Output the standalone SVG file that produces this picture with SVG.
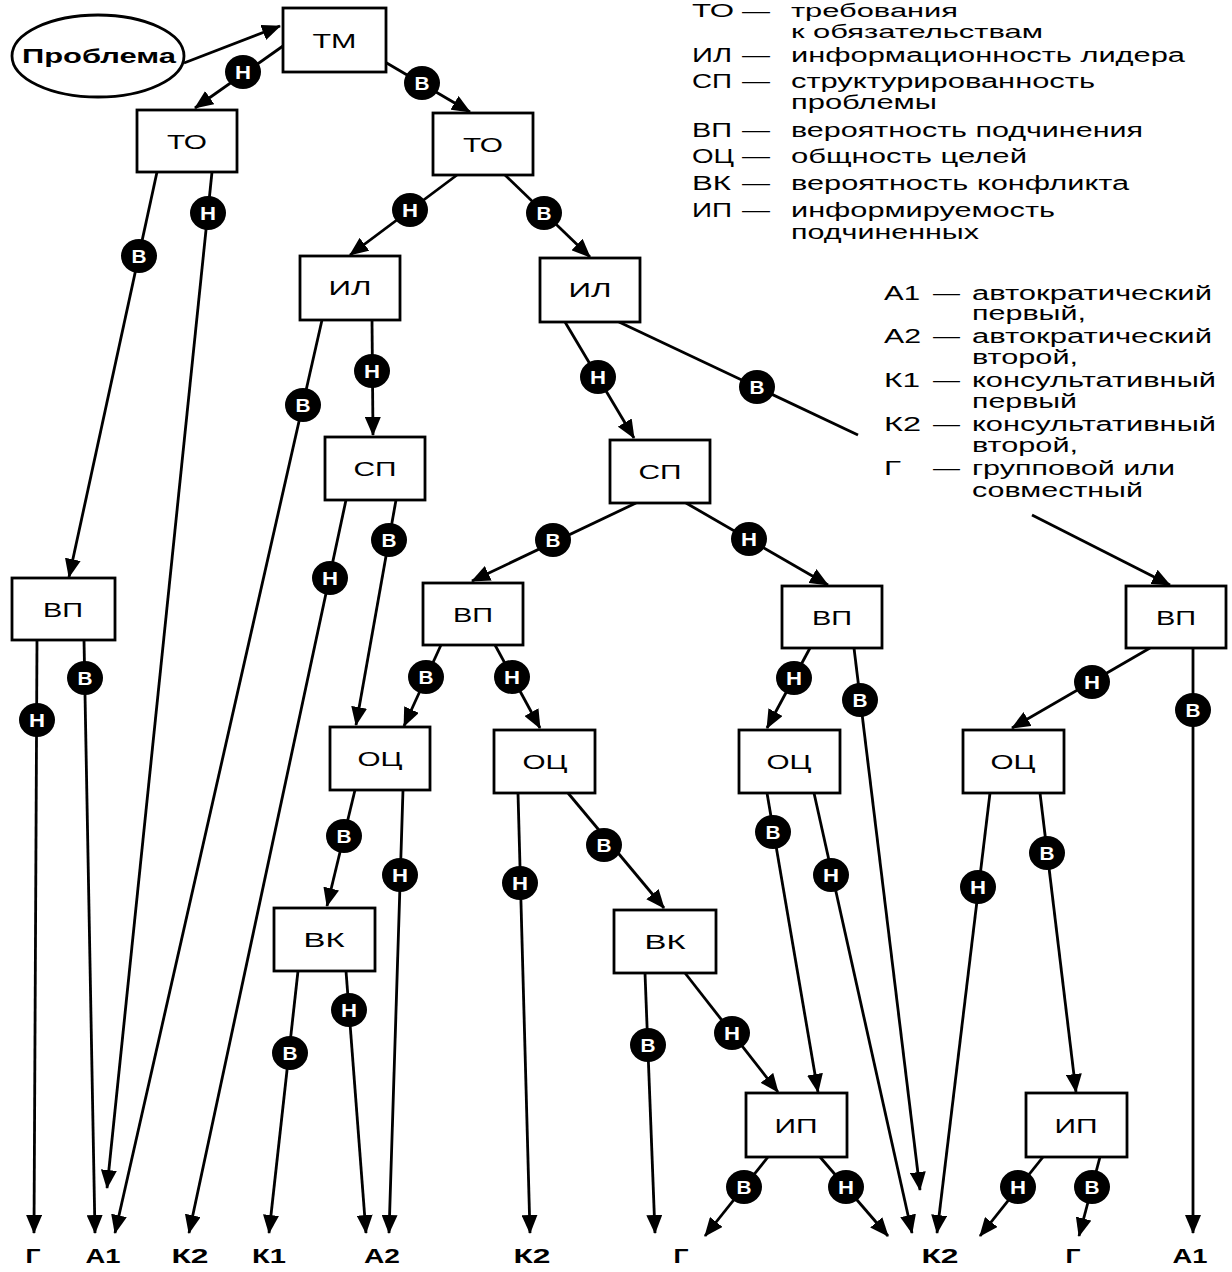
<svg xmlns="http://www.w3.org/2000/svg" width="1232" height="1272" viewBox="0 0 1232 1272">
<defs>
<marker id="ah" markerUnits="userSpaceOnUse" markerWidth="19" markerHeight="16" refX="18" refY="8" orient="auto">
<path d="M0,0 L19,8 L0,16 z" fill="#000"/>
</marker>
<style>
.box{fill:#fff;stroke:#000;stroke-width:2.8}
.lbl{font-family:"Liberation Sans",Arial,sans-serif;font-size:21px;text-anchor:middle;fill:#000}
.pb{font-family:"Liberation Sans",Arial,sans-serif;font-size:21px;font-weight:bold;text-anchor:middle;fill:#000}
.edge{stroke:#000;stroke-width:2.8;fill:none}
.arr{marker-end:url(#ah)}
.badge ellipse{fill:#000}
.bt{font-family:"Liberation Sans",Arial,sans-serif;font-size:18px;font-weight:bold;fill:#fff;text-anchor:middle}
.leg{font-family:"Liberation Sans",Arial,sans-serif;font-size:20px;fill:#000}
.out{font-family:"Liberation Sans",Arial,sans-serif;font-size:21px;font-weight:bold;text-anchor:middle;fill:#000}
</style>
</defs>
<rect width="1232" height="1272" fill="#fff"/>

<g id="connectors">
<path class="edge arr" d="M184,63 L280,26"/>
<path class="edge arr" d="M283,46 L195,108"/>
<path class="edge arr" d="M385,62 L470,112"/>
<path class="edge arr" d="M157,172 L69,577"/>
<path class="edge arr" d="M212,172 L107,1188"/>
<path class="edge arr" d="M457,175 L350,255"/>
<path class="edge arr" d="M505,175 L590,257"/>
<path class="edge arr" d="M322,320 L115,1233"/>
<path class="edge arr" d="M372,320 L373,435"/>
<path class="edge arr" d="M565,322 L634,438"/>
<path class="edge" d="M619,322 L858,435"/>
<path class="edge arr" d="M1032,515 L1170,585"/>
<path class="edge arr" d="M346,500 L189,1233"/>
<path class="edge arr" d="M396,500 L356,725"/>
<path class="edge arr" d="M636,503 L472,581"/>
<path class="edge arr" d="M686,503 L828,585"/>
<path class="edge arr" d="M37,640 L34,1233"/>
<path class="edge arr" d="M84,640 L95,1233"/>
<path class="edge arr" d="M441,645 L404,726"/>
<path class="edge arr" d="M495,645 L540,728"/>
<path class="edge arr" d="M355,790 L327,906"/>
<path class="edge arr" d="M403,790 L389,1233"/>
<path class="edge arr" d="M518,793 L530,1233"/>
<path class="edge arr" d="M568,793 L664,908"/>
<path class="edge arr" d="M298,971 L269,1233"/>
<path class="edge arr" d="M346,971 L366,1233"/>
<path class="edge arr" d="M645,973 L655,1233"/>
<path class="edge arr" d="M685,973 L778,1092"/>
<path class="edge arr" d="M767,793 L818,1092"/>
<path class="edge arr" d="M814,793 L912,1233"/>
<path class="edge arr" d="M810,648 L767,728"/>
<path class="edge arr" d="M854,648 L920,1190"/>
<path class="edge arr" d="M990,793 L937,1233"/>
<path class="edge arr" d="M1040,793 L1076,1092"/>
<path class="edge arr" d="M1150,648 L1012,728"/>
<path class="edge arr" d="M1193,648 L1193,1233"/>
<path class="edge arr" d="M768,1157 L705,1236"/>
<path class="edge arr" d="M820,1157 L888,1236"/>
<path class="edge arr" d="M1043,1157 L980,1236"/>
<path class="edge arr" d="M1100,1157 L1079,1236"/>

<g class="badge" transform="translate(243,72)"><ellipse rx="18" ry="17"/><text class="bt" y="6.5" textLength="16" lengthAdjust="spacingAndGlyphs">Н</text></g>
<g class="badge" transform="translate(422,83)"><ellipse rx="18" ry="17"/><text class="bt" y="6.5" textLength="15" lengthAdjust="spacingAndGlyphs">В</text></g>
<g class="badge" transform="translate(139,256)"><ellipse rx="18" ry="17"/><text class="bt" y="6.5" textLength="15" lengthAdjust="spacingAndGlyphs">В</text></g>
<g class="badge" transform="translate(208,213)"><ellipse rx="18" ry="17"/><text class="bt" y="6.5" textLength="16" lengthAdjust="spacingAndGlyphs">Н</text></g>
<g class="badge" transform="translate(410,210)"><ellipse rx="18" ry="17"/><text class="bt" y="6.5" textLength="16" lengthAdjust="spacingAndGlyphs">Н</text></g>
<g class="badge" transform="translate(544,213)"><ellipse rx="18" ry="17"/><text class="bt" y="6.5" textLength="15" lengthAdjust="spacingAndGlyphs">В</text></g>
<g class="badge" transform="translate(303,405)"><ellipse rx="18" ry="17"/><text class="bt" y="6.5" textLength="15" lengthAdjust="spacingAndGlyphs">В</text></g>
<g class="badge" transform="translate(372,371)"><ellipse rx="18" ry="17"/><text class="bt" y="6.5" textLength="16" lengthAdjust="spacingAndGlyphs">Н</text></g>
<g class="badge" transform="translate(598,377)"><ellipse rx="18" ry="17"/><text class="bt" y="6.5" textLength="16" lengthAdjust="spacingAndGlyphs">Н</text></g>
<g class="badge" transform="translate(757,387)"><ellipse rx="18" ry="17"/><text class="bt" y="6.5" textLength="15" lengthAdjust="spacingAndGlyphs">В</text></g>
<g class="badge" transform="translate(330,578)"><ellipse rx="18" ry="17"/><text class="bt" y="6.5" textLength="16" lengthAdjust="spacingAndGlyphs">Н</text></g>
<g class="badge" transform="translate(389,540)"><ellipse rx="18" ry="17"/><text class="bt" y="6.5" textLength="15" lengthAdjust="spacingAndGlyphs">В</text></g>
<g class="badge" transform="translate(553,540)"><ellipse rx="18" ry="17"/><text class="bt" y="6.5" textLength="15" lengthAdjust="spacingAndGlyphs">В</text></g>
<g class="badge" transform="translate(749,539)"><ellipse rx="18" ry="17"/><text class="bt" y="6.5" textLength="16" lengthAdjust="spacingAndGlyphs">Н</text></g>
<g class="badge" transform="translate(37,720)"><ellipse rx="18" ry="17"/><text class="bt" y="6.5" textLength="16" lengthAdjust="spacingAndGlyphs">Н</text></g>
<g class="badge" transform="translate(85,678)"><ellipse rx="18" ry="17"/><text class="bt" y="6.5" textLength="15" lengthAdjust="spacingAndGlyphs">В</text></g>
<g class="badge" transform="translate(426,677)"><ellipse rx="18" ry="17"/><text class="bt" y="6.5" textLength="15" lengthAdjust="spacingAndGlyphs">В</text></g>
<g class="badge" transform="translate(512,677)"><ellipse rx="18" ry="17"/><text class="bt" y="6.5" textLength="16" lengthAdjust="spacingAndGlyphs">Н</text></g>
<g class="badge" transform="translate(344,836)"><ellipse rx="18" ry="17"/><text class="bt" y="6.5" textLength="15" lengthAdjust="spacingAndGlyphs">В</text></g>
<g class="badge" transform="translate(400,875)"><ellipse rx="18" ry="17"/><text class="bt" y="6.5" textLength="16" lengthAdjust="spacingAndGlyphs">Н</text></g>
<g class="badge" transform="translate(520,883)"><ellipse rx="18" ry="17"/><text class="bt" y="6.5" textLength="16" lengthAdjust="spacingAndGlyphs">Н</text></g>
<g class="badge" transform="translate(604,845)"><ellipse rx="18" ry="17"/><text class="bt" y="6.5" textLength="15" lengthAdjust="spacingAndGlyphs">В</text></g>
<g class="badge" transform="translate(290,1053)"><ellipse rx="18" ry="17"/><text class="bt" y="6.5" textLength="15" lengthAdjust="spacingAndGlyphs">В</text></g>
<g class="badge" transform="translate(349,1010)"><ellipse rx="18" ry="17"/><text class="bt" y="6.5" textLength="16" lengthAdjust="spacingAndGlyphs">Н</text></g>
<g class="badge" transform="translate(648,1045)"><ellipse rx="18" ry="17"/><text class="bt" y="6.5" textLength="15" lengthAdjust="spacingAndGlyphs">В</text></g>
<g class="badge" transform="translate(732,1033)"><ellipse rx="18" ry="17"/><text class="bt" y="6.5" textLength="16" lengthAdjust="spacingAndGlyphs">Н</text></g>
<g class="badge" transform="translate(773,832)"><ellipse rx="18" ry="17"/><text class="bt" y="6.5" textLength="15" lengthAdjust="spacingAndGlyphs">В</text></g>
<g class="badge" transform="translate(831,875)"><ellipse rx="18" ry="17"/><text class="bt" y="6.5" textLength="16" lengthAdjust="spacingAndGlyphs">Н</text></g>
<g class="badge" transform="translate(794,678)"><ellipse rx="18" ry="17"/><text class="bt" y="6.5" textLength="16" lengthAdjust="spacingAndGlyphs">Н</text></g>
<g class="badge" transform="translate(860,700)"><ellipse rx="18" ry="17"/><text class="bt" y="6.5" textLength="15" lengthAdjust="spacingAndGlyphs">В</text></g>
<g class="badge" transform="translate(978,887)"><ellipse rx="18" ry="17"/><text class="bt" y="6.5" textLength="16" lengthAdjust="spacingAndGlyphs">Н</text></g>
<g class="badge" transform="translate(1047,853)"><ellipse rx="18" ry="17"/><text class="bt" y="6.5" textLength="15" lengthAdjust="spacingAndGlyphs">В</text></g>
<g class="badge" transform="translate(1092,682)"><ellipse rx="18" ry="17"/><text class="bt" y="6.5" textLength="16" lengthAdjust="spacingAndGlyphs">Н</text></g>
<g class="badge" transform="translate(1193,710)"><ellipse rx="18" ry="17"/><text class="bt" y="6.5" textLength="15" lengthAdjust="spacingAndGlyphs">В</text></g>
<g class="badge" transform="translate(744,1187)"><ellipse rx="18" ry="17"/><text class="bt" y="6.5" textLength="15" lengthAdjust="spacingAndGlyphs">В</text></g>
<g class="badge" transform="translate(846,1187)"><ellipse rx="18" ry="17"/><text class="bt" y="6.5" textLength="16" lengthAdjust="spacingAndGlyphs">Н</text></g>
<g class="badge" transform="translate(1018,1187)"><ellipse rx="18" ry="17"/><text class="bt" y="6.5" textLength="16" lengthAdjust="spacingAndGlyphs">Н</text></g>
<g class="badge" transform="translate(1092,1187)"><ellipse rx="18" ry="17"/><text class="bt" y="6.5" textLength="15" lengthAdjust="spacingAndGlyphs">В</text></g>
</g>

<g id="problem"><ellipse class="box" cx="98" cy="56" rx="86" ry="41"/><text class="pb" x="99" y="63" textLength="154" lengthAdjust="spacingAndGlyphs">Проблема</text></g>
<g id="tm"><rect class="box" x="283" y="8" width="103" height="64"/><text class="lbl" x="334.5" y="48" textLength="44" lengthAdjust="spacingAndGlyphs">ТМ</text></g>
<g id="to1"><rect class="box" x="137" y="110" width="100" height="62"/><text class="lbl" x="187" y="149" textLength="40" lengthAdjust="spacingAndGlyphs">ТО</text></g>
<g id="to2"><rect class="box" x="433" y="113" width="100" height="62"/><text class="lbl" x="483" y="152" textLength="40" lengthAdjust="spacingAndGlyphs">ТО</text></g>
<g id="il1"><rect class="box" x="300" y="256" width="100" height="64"/><text class="lbl" x="350" y="295" textLength="43" lengthAdjust="spacingAndGlyphs">ИЛ</text></g>
<g id="il2"><rect class="box" x="540" y="258" width="100" height="64"/><text class="lbl" x="590" y="297" textLength="43" lengthAdjust="spacingAndGlyphs">ИЛ</text></g>
<g id="sp1"><rect class="box" x="325" y="437" width="100" height="63"/><text class="lbl" x="375" y="476" textLength="43" lengthAdjust="spacingAndGlyphs">СП</text></g>
<g id="sp2"><rect class="box" x="610" y="440" width="100" height="63"/><text class="lbl" x="660" y="479" textLength="43" lengthAdjust="spacingAndGlyphs">СП</text></g>
<g id="vp1"><rect class="box" x="12" y="578" width="103" height="62"/><text class="lbl" x="63" y="617" textLength="40" lengthAdjust="spacingAndGlyphs">ВП</text></g>
<g id="vp2"><rect class="box" x="423" y="583" width="100" height="62"/><text class="lbl" x="473" y="622" textLength="40" lengthAdjust="spacingAndGlyphs">ВП</text></g>
<g id="vp3"><rect class="box" x="782" y="586" width="100" height="62"/><text class="lbl" x="832" y="625" textLength="40" lengthAdjust="spacingAndGlyphs">ВП</text></g>
<g id="vp4"><rect class="box" x="1126" y="586" width="100" height="62"/><text class="lbl" x="1176" y="625" textLength="40" lengthAdjust="spacingAndGlyphs">ВП</text></g>
<g id="oc1"><rect class="box" x="330" y="727" width="100" height="63"/><text class="lbl" x="380" y="766" textLength="45" lengthAdjust="spacingAndGlyphs">ОЦ</text></g>
<g id="oc2"><rect class="box" x="494" y="730" width="101" height="63"/><text class="lbl" x="545" y="769" textLength="45" lengthAdjust="spacingAndGlyphs">ОЦ</text></g>
<g id="oc3"><rect class="box" x="739" y="730" width="101" height="63"/><text class="lbl" x="789" y="769" textLength="45" lengthAdjust="spacingAndGlyphs">ОЦ</text></g>
<g id="oc4"><rect class="box" x="963" y="730" width="101" height="63"/><text class="lbl" x="1013" y="769" textLength="45" lengthAdjust="spacingAndGlyphs">ОЦ</text></g>
<g id="vk1"><rect class="box" x="274" y="908" width="101" height="63"/><text class="lbl" x="324" y="947" textLength="41" lengthAdjust="spacingAndGlyphs">ВК</text></g>
<g id="vk2"><rect class="box" x="614" y="910" width="102" height="63"/><text class="lbl" x="665" y="949" textLength="41" lengthAdjust="spacingAndGlyphs">ВК</text></g>
<g id="ip1"><rect class="box" x="746" y="1093" width="101" height="64"/><text class="lbl" x="796" y="1133" textLength="43" lengthAdjust="spacingAndGlyphs">ИП</text></g>
<g id="ip2"><rect class="box" x="1026" y="1093" width="101" height="64"/><text class="lbl" x="1076" y="1133" textLength="43" lengthAdjust="spacingAndGlyphs">ИП</text></g>

<g id="out-g1"><text class="out" x="33" y="1263" textLength="15" lengthAdjust="spacingAndGlyphs">Г</text></g>
<g id="out-a1a"><text class="out" x="103" y="1263" textLength="35" lengthAdjust="spacingAndGlyphs">А1</text></g>
<g id="out-k2a"><text class="out" x="190" y="1263" textLength="37" lengthAdjust="spacingAndGlyphs">К2</text></g>
<g id="out-k1"><text class="out" x="269" y="1263" textLength="34" lengthAdjust="spacingAndGlyphs">К1</text></g>
<g id="out-a2"><text class="out" x="382" y="1263" textLength="36" lengthAdjust="spacingAndGlyphs">А2</text></g>
<g id="out-k2b"><text class="out" x="532" y="1263" textLength="37" lengthAdjust="spacingAndGlyphs">К2</text></g>
<g id="out-g2"><text class="out" x="681" y="1263" textLength="15" lengthAdjust="spacingAndGlyphs">Г</text></g>
<g id="out-k2c"><text class="out" x="940" y="1263" textLength="37" lengthAdjust="spacingAndGlyphs">К2</text></g>
<g id="out-g3"><text class="out" x="1073" y="1263" textLength="15" lengthAdjust="spacingAndGlyphs">Г</text></g>
<g id="out-a1b"><text class="out" x="1190" y="1263" textLength="35" lengthAdjust="spacingAndGlyphs">А1</text></g>

<g id="legend1" class="leg">
<text x="692" y="17" font-size="18" textLength="42" lengthAdjust="spacingAndGlyphs">ТО</text><text x="742" y="17" font-size="18" textLength="28" lengthAdjust="spacingAndGlyphs">—</text><text x="791" y="17" font-size="18" textLength="167" lengthAdjust="spacingAndGlyphs">требования</text>
<text x="791" y="38" font-size="19" textLength="252" lengthAdjust="spacingAndGlyphs">к обязательствам</text>
<text x="692" y="62" textLength="40" lengthAdjust="spacingAndGlyphs">ИЛ</text><text x="742" y="62" textLength="28" lengthAdjust="spacingAndGlyphs">—</text><text x="791" y="62" textLength="394" lengthAdjust="spacingAndGlyphs">информационность лидера</text>
<text x="692" y="88" textLength="40" lengthAdjust="spacingAndGlyphs">СП</text><text x="742" y="88" textLength="28" lengthAdjust="spacingAndGlyphs">—</text><text x="791" y="88" textLength="304" lengthAdjust="spacingAndGlyphs">структурированность</text>
<text x="791" y="109" textLength="146" lengthAdjust="spacingAndGlyphs">проблемы</text>
<text x="692" y="137" textLength="40" lengthAdjust="spacingAndGlyphs">ВП</text><text x="742" y="137" textLength="28" lengthAdjust="spacingAndGlyphs">—</text><text x="791" y="137" textLength="352" lengthAdjust="spacingAndGlyphs">вероятность подчинения</text>
<text x="692" y="163" textLength="42" lengthAdjust="spacingAndGlyphs">ОЦ</text><text x="742" y="163" textLength="28" lengthAdjust="spacingAndGlyphs">—</text><text x="791" y="163" textLength="236" lengthAdjust="spacingAndGlyphs">общность целей</text>
<text x="692" y="190" textLength="39" lengthAdjust="spacingAndGlyphs">ВК</text><text x="742" y="190" textLength="28" lengthAdjust="spacingAndGlyphs">—</text><text x="791" y="190" textLength="338" lengthAdjust="spacingAndGlyphs">вероятность конфликта</text>
<text x="692" y="217" textLength="40" lengthAdjust="spacingAndGlyphs">ИП</text><text x="742" y="217" textLength="28" lengthAdjust="spacingAndGlyphs">—</text><text x="791" y="217" textLength="264" lengthAdjust="spacingAndGlyphs">информируемость</text>
<text x="791" y="239" textLength="188" lengthAdjust="spacingAndGlyphs">подчиненных</text>
</g>

<g id="legend2" class="leg">
<text x="884" y="300" textLength="36" lengthAdjust="spacingAndGlyphs">А1</text><text x="933" y="300" textLength="27" lengthAdjust="spacingAndGlyphs">—</text><text x="972" y="300" textLength="240" lengthAdjust="spacingAndGlyphs">автократический</text>
<text x="972" y="320" textLength="114" lengthAdjust="spacingAndGlyphs">первый,</text>
<text x="884" y="343" textLength="37" lengthAdjust="spacingAndGlyphs">А2</text><text x="933" y="343" textLength="27" lengthAdjust="spacingAndGlyphs">—</text><text x="972" y="343" textLength="240" lengthAdjust="spacingAndGlyphs">автократический</text>
<text x="972" y="364" textLength="106" lengthAdjust="spacingAndGlyphs">второй,</text>
<text x="884" y="387" textLength="36" lengthAdjust="spacingAndGlyphs">К1</text><text x="933" y="387" textLength="27" lengthAdjust="spacingAndGlyphs">—</text><text x="972" y="387" textLength="244" lengthAdjust="spacingAndGlyphs">консультативный</text>
<text x="972" y="408" textLength="105" lengthAdjust="spacingAndGlyphs">первый</text>
<text x="884" y="431" textLength="37" lengthAdjust="spacingAndGlyphs">К2</text><text x="933" y="431" textLength="27" lengthAdjust="spacingAndGlyphs">—</text><text x="972" y="431" textLength="244" lengthAdjust="spacingAndGlyphs">консультативный</text>
<text x="972" y="452" textLength="106" lengthAdjust="spacingAndGlyphs">второй,</text>
<text x="884" y="475" textLength="17" lengthAdjust="spacingAndGlyphs">Г</text><text x="933" y="475" textLength="27" lengthAdjust="spacingAndGlyphs">—</text><text x="972" y="475" textLength="203" lengthAdjust="spacingAndGlyphs">групповой или</text>
<text x="972" y="497" textLength="171" lengthAdjust="spacingAndGlyphs">совместный</text>
</g>
</svg>
